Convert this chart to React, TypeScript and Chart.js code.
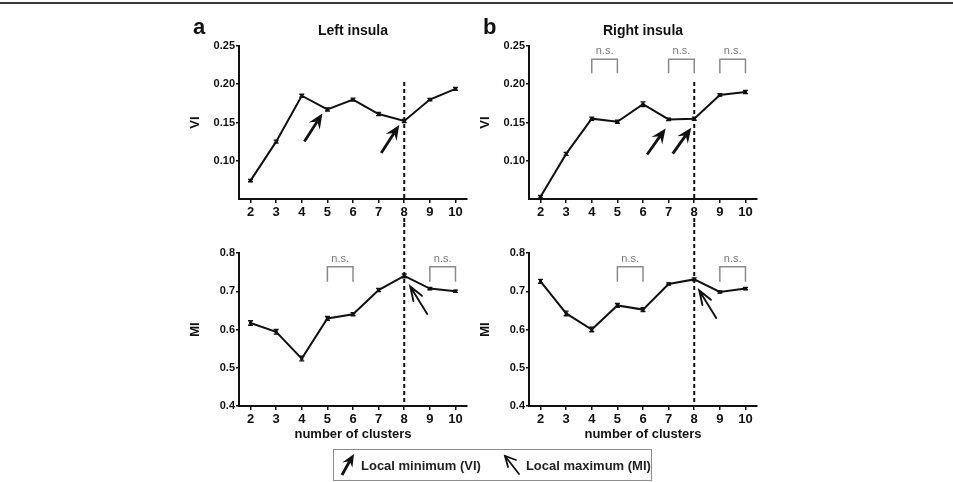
import React, { useEffect, useRef } from 'react';
import { Chart, registerables } from 'chart.js';

Chart.register(...registerables);

const FONT = "'Liberation Sans', Arial, Helvetica, sans-serif";
const INK = '#111';

// number of clusters (x categories)
const clusters = [2, 3, 4, 5, 6, 7, 8, 9, 10];

// variation of information (VI)
const viLeft = [0.074, 0.125, 0.185, 0.167, 0.180, 0.161, 0.152, 0.180, 0.194];
const viLeftSem = [0.0015, 0.002, 0.002, 0.002, 0.0018, 0.002, 0.002, 0.0015, 0.0018];
const viRight = [0.053, 0.109, 0.155, 0.151, 0.174, 0.154, 0.155, 0.186, 0.190];
const viRightSem = [0.0015, 0.002, 0.002, 0.002, 0.003, 0.0015, 0.002, 0.0015, 0.002];

// mutual information (MI)
const miLeft = [0.617, 0.594, 0.524, 0.629, 0.640, 0.703, 0.740, 0.707, 0.700];
const miLeftSem = [0.006, 0.006, 0.006, 0.005, 0.004, 0.004, 0.005, 0.003, 0.003];
const miRight = [0.726, 0.642, 0.600, 0.663, 0.652, 0.719, 0.731, 0.698, 0.707];
const miRightSem = [0.005, 0.006, 0.006, 0.005, 0.005, 0.003, 0.004, 0.003, 0.003];

// axis ranges and tick values
const xRange = [1.55, 10.45];
const viRange = [0.05, 0.25];
const viTicks = [0.10, 0.15, 0.20, 0.25];
const miRange = [0.4, 0.8];
const miTicks = [0.4, 0.5, 0.6, 0.7, 0.8];

// chosen solution and annotations
const chosenK = 8;
const viDashFrom = 0.203;
const nsViRight = [[4, 5], [7, 8], [9, 10]];
const nsMi = [[5, 6], [9, 10]];
const nsViLevels = [0.2145, 0.2328];
const nsMiLevels = [0.725, 0.764];
const localMinLeft = [5, 8];
const localMinRight = [7, 8];
const localMaxLeft = [8];
const localMaxRight = [8];

type ArrowSpec = { at: number[]; kind: 'filled' | 'open'; tip: [number, number]; tail: [number, number] };

type PanelProps = {
  left: number;
  top: number;
  width: number;
  height: number;
  padTop: number;
  xHeight: number;
  values: number[];
  sem: number[];
  yRange: number[];
  yTicks: number[];
  yDigits: number;
  yTitle: string;
  ns: number[][];
  nsLevels: number[];
  arrows: ArrowSpec;
  dashFrom: number | null;
  showXTitle: boolean;
  letter?: string;
  heading?: string;
};

function drawFilledArrow(ctx: CanvasRenderingContext2D, tx: number, ty: number, bx: number, by: number) {
  const dx = tx - bx;
  const dy = ty - by;
  const L = Math.hypot(dx, dy);
  const ux = dx / L;
  const uy = dy / L;
  const nx = -uy;
  const ny = ux;
  const head = 15;
  const half = 6.5;
  const notch = 9.5;
  ctx.save();
  ctx.strokeStyle = INK;
  ctx.fillStyle = INK;
  ctx.lineWidth = 2.8;
  ctx.lineCap = 'butt';
  ctx.beginPath();
  ctx.moveTo(bx, by);
  ctx.lineTo(tx - ux * notch, ty - uy * notch);
  ctx.stroke();
  ctx.beginPath();
  ctx.moveTo(tx, ty);
  ctx.lineTo(tx - ux * head + nx * half, ty - uy * head + ny * half);
  ctx.lineTo(tx - ux * notch, ty - uy * notch);
  ctx.lineTo(tx - ux * head - nx * half, ty - uy * head - ny * half);
  ctx.closePath();
  ctx.fill();
  ctx.restore();
}

function drawOpenArrow(ctx: CanvasRenderingContext2D, tx: number, ty: number, bx: number, by: number) {
  const ang = Math.atan2(by - ty, bx - tx);
  const spread = 0.34;
  const len = 15;
  ctx.save();
  ctx.strokeStyle = INK;
  ctx.lineWidth = 1.9;
  ctx.lineCap = 'round';
  ctx.beginPath();
  ctx.moveTo(bx, by);
  ctx.lineTo(tx, ty);
  ctx.moveTo(tx + Math.cos(ang + spread) * len, ty + Math.sin(ang + spread) * len);
  ctx.lineTo(tx, ty);
  ctx.lineTo(tx + Math.cos(ang - spread) * len, ty + Math.sin(ang - spread) * len);
  ctx.stroke();
  ctx.restore();
}

function Panel(p: PanelProps) {
  const ref = useRef<HTMLCanvasElement>(null);

  useEffect(() => {
    const canvas = ref.current;
    if (!canvas) return;

    const decor = {
      id: 'panelDecor',
      beforeDatasetsDraw(chart: any) {
        const { ctx, chartArea, scales } = chart;
        const xs = scales.x;
        const ys = scales.y;
        const x = xs.getPixelForValue(chosenK);
        ctx.save();
        ctx.strokeStyle = INK;
        ctx.lineWidth = 2;
        ctx.setLineDash([4, 3]);
        ctx.beginPath();
        if (p.dashFrom !== null) {
          ctx.moveTo(x, ys.getPixelForValue(p.dashFrom));
          ctx.lineTo(x, chartArea.bottom);
          ctx.moveTo(x, chartArea.bottom + 19);
          ctx.lineTo(x, chart.height);
        } else {
          ctx.moveTo(x, 0);
          ctx.lineTo(x, chartArea.bottom);
        }
        ctx.stroke();
        ctx.restore();
      },
      afterDatasetsDraw(chart: any) {
        const { ctx, chartArea, scales } = chart;
        const xs = scales.x;
        const ys = scales.y;

        // error bars
        ctx.save();
        ctx.strokeStyle = INK;
        ctx.lineWidth = 1.4;
        clusters.forEach((k, i) => {
          const px = xs.getPixelForValue(k);
          const y1 = ys.getPixelForValue(p.values[i] - p.sem[i]);
          const y2 = ys.getPixelForValue(p.values[i] + p.sem[i]);
          ctx.beginPath();
          ctx.moveTo(px, y1);
          ctx.lineTo(px, y2);
          ctx.moveTo(px - 2.5, y1);
          ctx.lineTo(px + 2.5, y1);
          ctx.moveTo(px - 2.5, y2);
          ctx.lineTo(px + 2.5, y2);
          ctx.stroke();
        });
        ctx.restore();

        // n.s. brackets
        ctx.save();
        ctx.strokeStyle = '#8a8a8a';
        ctx.fillStyle = '#7a7a7a';
        ctx.lineWidth = 1.5;
        ctx.font = `11px ${FONT}`;
        ctx.textAlign = 'center';
        ctx.textBaseline = 'middle';
        const yLo = ys.getPixelForValue(p.nsLevels[0]);
        const yHi = ys.getPixelForValue(p.nsLevels[1]);
        p.ns.forEach(([a, b]) => {
          const xa = xs.getPixelForValue(a);
          const xb = xs.getPixelForValue(b);
          ctx.beginPath();
          ctx.moveTo(xa, yLo);
          ctx.lineTo(xa, yHi);
          ctx.lineTo(xb, yHi);
          ctx.lineTo(xb, yLo);
          ctx.stroke();
          ctx.fillText('n.s.', (xa + xb) / 2, yHi - 8);
        });
        ctx.restore();

        // local extremum arrows
        p.arrows.at.forEach((k) => {
          const i = clusters.indexOf(k);
          const px = xs.getPixelForValue(k);
          const py = ys.getPixelForValue(p.values[i]);
          const tx = px + p.arrows.tip[0];
          const ty = py + p.arrows.tip[1];
          const bx = tx + p.arrows.tail[0];
          const by = ty + p.arrows.tail[1];
          if (p.arrows.kind === 'filled') drawFilledArrow(ctx, tx, ty, bx, by);
          else drawOpenArrow(ctx, tx, ty, bx, by);
        });

        // panel letter and heading
        if (p.letter || p.heading) {
          ctx.save();
          ctx.fillStyle = INK;
          ctx.textBaseline = 'alphabetic';
          if (p.letter) {
            ctx.font = `bold 22px ${FONT}`;
            ctx.textAlign = 'left';
            ctx.fillText(p.letter, 13, 20);
          }
          if (p.heading) {
            ctx.font = `bold 14px ${FONT}`;
            ctx.textAlign = 'center';
            ctx.fillText(p.heading, (chartArea.left + chartArea.right) / 2, 21);
          }
          ctx.restore();
        }
      },
    };

    const chart = new Chart(canvas, {
      type: 'line',
      data: {
        datasets: [
          {
            data: clusters.map((k, i) => ({ x: k, y: p.values[i] })),
            borderColor: INK,
            backgroundColor: INK,
            borderWidth: 2,
            pointStyle: 'rect',
            pointRadius: 2.2,
            pointBorderWidth: 0,
            tension: 0,
            clip: false,
          },
        ],
      },
      options: {
        responsive: false,
        animation: false,
        events: [],
        layout: { padding: { top: p.padTop, right: 13, left: 0, bottom: 0 } },
        plugins: { legend: { display: false }, tooltip: { enabled: false }, title: { display: false } },
        scales: {
          x: {
            type: 'linear',
            min: xRange[0],
            max: xRange[1],
            afterBuildTicks: (s: any) => {
              s.ticks = clusters.map((v) => ({ value: v }));
            },
            afterFit: (s: any) => {
              s.height = p.xHeight;
            },
            grid: { drawOnChartArea: false, tickLength: 4, color: INK, lineWidth: 1.5 },
            border: { color: INK, width: 2 },
            ticks: {
              color: INK,
              autoSkip: false,
              maxRotation: 0,
              padding: 2,
              font: { family: FONT, size: 13, weight: 'bold' },
              callback: (v: any) => String(v),
            },
            title: {
              display: p.showXTitle,
              text: 'number of clusters',
              color: INK,
              font: { family: FONT, size: 13, weight: 'bold' },
              padding: { top: 0, bottom: 2 },
            },
          },
          y: {
            type: 'linear',
            min: p.yRange[0],
            max: p.yRange[1],
            afterBuildTicks: (s: any) => {
              s.ticks = p.yTicks.map((v) => ({ value: v }));
            },
            afterFit: (s: any) => {
              s.width = 59;
            },
            grid: { drawOnChartArea: false, tickLength: 3, color: INK, lineWidth: 1.5 },
            border: { color: INK, width: 2 },
            ticks: {
              color: INK,
              padding: 1,
              font: { family: FONT, size: 11, weight: 'bold' },
              callback: (v: any) => Number(v).toFixed(p.yDigits),
            },
            title: {
              display: true,
              text: p.yTitle,
              color: INK,
              font: { family: FONT, size: 13, weight: 'bold' },
              padding: { top: 8, bottom: 0 },
            },
          },
        },
      },
      plugins: [decor],
    } as any);

    return () => chart.destroy();
  }, []);

  return (
    <canvas
      ref={ref}
      width={p.width}
      height={p.height}
      style={{ position: 'absolute', left: p.left, top: p.top, width: p.width, height: p.height }}
    />
  );
}

function MinIcon() {
  return (
    <svg width="16" height="24" viewBox="0 0 16 24" style={{ display: 'block' }}>
      <line x1="2" y1="22" x2="9.6" y2="8.3" stroke={INK} strokeWidth="2.8" />
      <polygon points="14,1 12.4,14.6 9.6,8.3 2.2,9.6" fill={INK} />
    </svg>
  );
}

function MaxIcon() {
  return (
    <svg width="20" height="22" viewBox="0 0 20 22" style={{ display: 'block' }}>
      <g stroke={INK} strokeWidth="1.8" fill="none" strokeLinecap="round">
        <line x1="2" y1="2" x2="16" y2="20" />
        <polyline points="13,6 2,2 5,13" />
      </g>
    </svg>
  );
}

export default function App() {
  const colA = 180;
  const colB = 470;
  const topY = 14;
  const midY = 223;
  return (
    <div style={{ position: 'relative', width: 937, height: 482, fontFamily: FONT }}>
      <div style={{ position: 'fixed', left: 0, top: 2, width: '100%', height: 2, background: '#3a3a3a' }} />
      <Panel
        left={colA - 8}
        top={topY - 8}
        width={300}
        height={midY - topY}
        padTop={32}
        xHeight={24}
        values={viLeft}
        sem={viLeftSem}
        yRange={viRange}
        yTicks={viTicks}
        yDigits={2}
        yTitle="VI"
        ns={[]}
        nsLevels={nsViLevels}
        arrows={{ at: localMinLeft, kind: 'filled', tip: [-5, 4], tail: [-18, 28] }}
        dashFrom={viDashFrom}
        showXTitle={false}
        letter="a"
        heading="Left insula"
      />
      <Panel
        left={colB - 8}
        top={topY - 8}
        width={300}
        height={midY - topY}
        padTop={32}
        xHeight={24}
        values={viRight}
        sem={viRightSem}
        yRange={viRange}
        yTicks={viTicks}
        yDigits={2}
        yTitle="VI"
        ns={nsViRight}
        nsLevels={nsViLevels}
        arrows={{ at: localMinRight, kind: 'filled', tip: [-3, 9], tail: [-18.5, 26] }}
        dashFrom={viDashFrom}
        showXTitle={false}
        letter="b"
        heading="Right insula"
      />
      <Panel
        left={colA - 8}
        top={midY - 8}
        width={300}
        height={221}
        padTop={30}
        xHeight={38}
        values={miLeft}
        sem={miLeftSem}
        yRange={miRange}
        yTicks={miTicks}
        yDigits={1}
        yTitle="MI"
        ns={nsMi}
        nsLevels={nsMiLevels}
        arrows={{ at: localMaxLeft, kind: 'open', tip: [6, 10.5], tail: [17, 27.5] }}
        dashFrom={null}
        showXTitle={true}
      />
      <Panel
        left={colB - 8}
        top={midY - 8}
        width={300}
        height={221}
        padTop={30}
        xHeight={38}
        values={miRight}
        sem={miRightSem}
        yRange={miRange}
        yTicks={miTicks}
        yDigits={1}
        yTitle="MI"
        ns={nsMi}
        nsLevels={nsMiLevels}
        arrows={{ at: localMaxRight, kind: 'open', tip: [5, 11], tail: [17, 27.5] }}
        dashFrom={null}
        showXTitle={true}
      />
      <div
        style={{
          position: 'absolute',
          left: 333 - 8,
          top: 449 - 8,
          width: 319,
          height: 32,
          boxSizing: 'border-box',
          border: '1px solid #8c8c8c',
          display: 'flex',
          alignItems: 'center',
          fontSize: 13,
          fontWeight: 'bold',
          color: '#222',
          whiteSpace: 'nowrap',
        }}
      >
        <div style={{ marginLeft: 6 }}>
          <MinIcon />
        </div>
        <span style={{ marginLeft: 5 }}>Local minimum (VI)</span>
        <div style={{ marginLeft: 22 }}>
          <MaxIcon />
        </div>
        <span style={{ marginLeft: 3 }}>Local maximum (MI)</span>
      </div>
    </div>
  );
}
